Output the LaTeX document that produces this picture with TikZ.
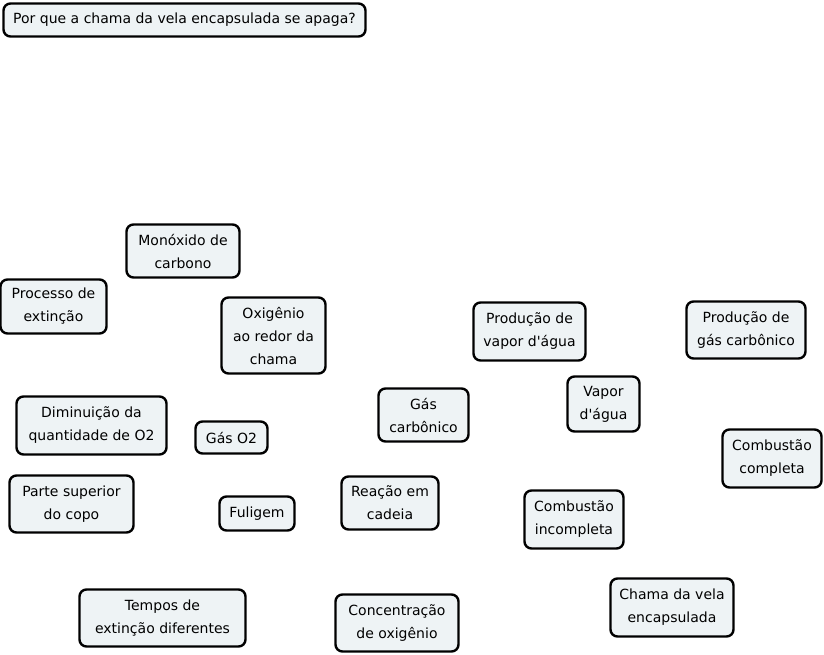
\documentclass[tikz,border=0pt]{standalone}
\usepackage{fontspec}
\setmainfont{DejaVu Sans}[Ligatures=TeXOff]
\usepackage{tikz}

\definecolor{fundo}{HTML}{EEF3F5}

\begin{document}
\begin{tikzpicture}[x=1pt, y=-1pt,
% Estilo das caixas
caixa/.style={rectangle, rounded corners=7pt, draw=black, line width=2.4pt, fill=fundo,
  inner sep=0pt, align=center, font=\fontsize{14}{23}\selectfont},
]
\useasboundingbox (0,0) rectangle (824,654);

% Pergunta
\node (pergunta) at (184.5,20) [caixa, minimum width=362, minimum height=33]{Por que a chama da vela encapsulada se apaga?};

% Conceitos
\node (monoxido) at (183,251) [caixa, minimum width=113, minimum height=53]{Monóxido de\\carbono};
\node (processo) at (53.5,306.5) [caixa, minimum width=106, minimum height=54]{Processo de\\extinção};
\node (oxigenio) at (273.5,335.5) [caixa, minimum width=104, minimum height=76]{Oxigênio\\ao redor da\\chama};
\node (prodvapor) at (529.5,331.5) [caixa, minimum width=112, minimum height=58]{Produção de\\vapor d'água};
\node (prodgas) at (746,330) [caixa, minimum width=119, minimum height=57]{Produção de\\gás carbônico};
\node (vapor) at (603.5,404) [caixa, minimum width=72, minimum height=55]{Vapor\\d'água};
\node (gascarb) at (423.5,415) [caixa, minimum width=90, minimum height=53]{Gás\\carbônico};
\node (diminuicao) at (91.5,425.5) [caixa, minimum width=150, minimum height=58]{Diminuição da\\quantidade de O2};
\node (gaso2) at (231.5,437.5) [caixa, minimum width=72, minimum height=32]{Gás O2};
\node (completa) at (772,458.5) [caixa, minimum width=99, minimum height=58]{Combustão\\completa};
\node (copo) at (71.5,504) [caixa, minimum width=124, minimum height=57]{Parte superior\\do copo};
\node (fuligem) at (257,513.5) [caixa, minimum width=75, minimum height=34]{Fuligem};
\node (reacao) at (390,503) [caixa, minimum width=97, minimum height=53]{Reação em\\cadeia};
\node (incompleta) at (574,519.5) [caixa, minimum width=99, minimum height=58]{Combustão\\incompleta};
\node (tempos) at (162.5,618) [caixa, minimum width=166, minimum height=57]{Tempos de\\extinção diferentes};
\node (concentracao) at (397,623) [caixa, minimum width=123, minimum height=57]{Concentração\\de oxigênio};
\node (chama) at (672,607.5) [caixa, minimum width=123, minimum height=58]{Chama da vela\\encapsulada};
\end{tikzpicture}
\end{document}
